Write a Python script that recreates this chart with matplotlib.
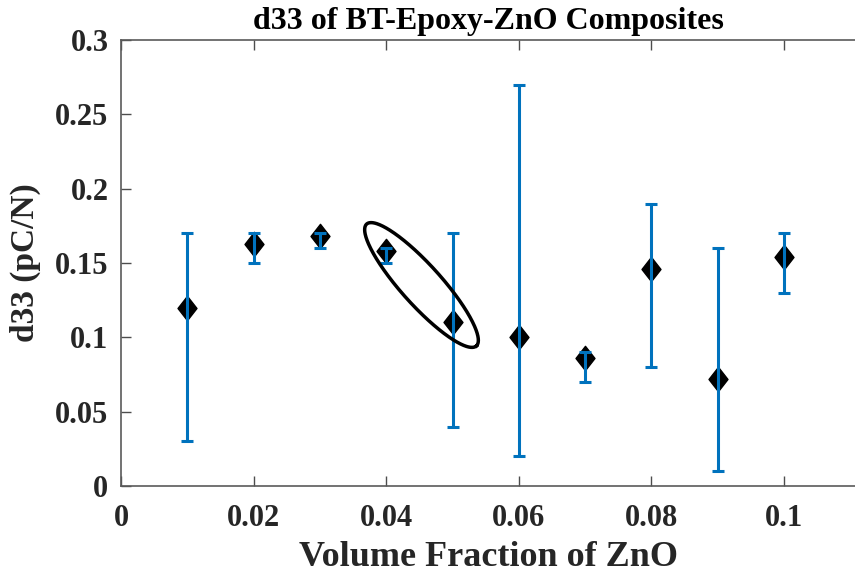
import numpy as np
import matplotlib
matplotlib.use("Agg")
import matplotlib.pyplot as plt
from matplotlib.path import Path

x = [0.01, 0.02, 0.03, 0.04, 0.05, 0.06, 0.07, 0.08, 0.09, 0.10]
d33 = [0.120, 0.163, 0.168, 0.158, 0.110, 0.100, 0.086, 0.146, 0.072, 0.154]
err_low = [0.030, 0.150, 0.160, 0.150, 0.040, 0.020, 0.070, 0.080, 0.010, 0.130]
err_high = [0.170, 0.170, 0.170, 0.160, 0.170, 0.270, 0.090, 0.190, 0.160, 0.170]
xticks = [0, 0.02, 0.04, 0.06, 0.08, 0.1]
xtick_labels = ["0", "0.02", "0.04", "0.06", "0.08", "0.1"]
yticks = [0, 0.05, 0.1, 0.15, 0.2, 0.25, 0.3]
ytick_labels = ["0", "0.05", "0.1", "0.15", "0.2", "0.25", "0.3"]

plt.rcParams['font.family'] = ['Liberation Serif', 'DejaVu Serif']
plt.rcParams['font.weight'] = 'bold'

W, H = 855, 573
fig = plt.figure(figsize=(W / 100, H / 100), dpi=100)
left, right, top, bottom = 121, 855, 40, 486
ax = fig.add_axes([left / W, 1 - bottom / H, (right - left) / W, (bottom - top) / H])

xmax = 0.1 * (right - left) / (784 - left)
ax.set_xlim(0, xmax)
ax.set_ylim(0, 0.3)

d = np.array(d33)
lo = d - np.array(err_low)
hi = np.array(err_high) - d

diamond = Path([(0, 1), (0.78, 0), (0, -1), (-0.78, 0), (0, 1)],
               [Path.MOVETO, Path.LINETO, Path.LINETO, Path.LINETO, Path.CLOSEPOLY])

ax.plot(x, d33, linestyle='none', marker=diamond, markersize=17.5, color='black', zorder=2)
ax.errorbar(x, d33, yerr=[lo, hi], fmt='none', ecolor='#0072BD', elinewidth=2.2,
            capsize=4, capthick=2.2, zorder=3)

# Highlight ellipse (pixel-space geometry converted to data units)
cx_px, cy_px = 421.5, 285.0
a_px, b_px, ang = 82.0, 20.0, np.deg2rad(48.0)
t = np.linspace(0, 2 * np.pi, 400)
ex = cx_px + a_px * np.cos(t) * np.cos(ang) - b_px * np.sin(t) * np.sin(ang)
ey = cy_px + a_px * np.cos(t) * np.sin(ang) + b_px * np.sin(t) * np.cos(ang)
sx = xmax / (right - left)
sy = 0.3 / (bottom - top)
ax.plot((ex - left) * sx, (bottom - ey) * sy, color='black', linewidth=2.5, zorder=4)

ax.set_xticks(xticks)
ax.set_xticklabels(xtick_labels)
ax.set_yticks(yticks)
ax.set_yticklabels(ytick_labels)
ax.tick_params(direction='in', length=7, width=1, color='#4d4d4d', labelsize=22,
               top=True, right=False)
ax.tick_params(axis='x', pad=13)
ax.tick_params(axis='y', pad=9)
for lab in ax.get_xticklabels() + ax.get_yticklabels():
    lab.set_fontweight('bold')
    lab.set_color('#262626')

for s in ['left', 'bottom', 'top']:
    ax.spines[s].set_color('#5a5a5a')
    ax.spines[s].set_linewidth(1.2)
ax.spines['right'].set_visible(False)

ax.set_title('d33 of BT-Epoxy-ZnO Composites', fontsize=23, fontweight='bold', pad=8)
ax.set_xlabel('Volume Fraction of ZnO', fontsize=26, fontweight='bold', color='#262626', labelpad=6)
ax.set_ylabel('d33 (pC/N)', fontsize=24, fontweight='bold', color='#262626', labelpad=10)

fig.savefig('out.png', dpi=100)
